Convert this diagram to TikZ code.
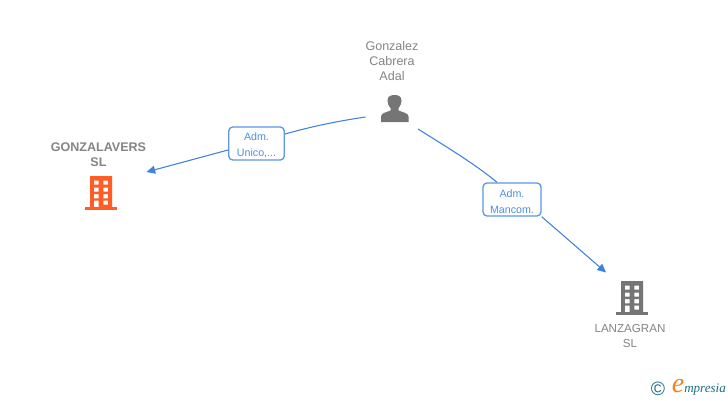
\documentclass[tikz,border=0pt]{standalone}
\usepackage{fontspec}
\setmainfont{Liberation Sans}
\newfontfamily\logofont{Liberation Serif}
\usetikzlibrary{arrows.meta}
\definecolor{linkblue}{HTML}{3F82E0}
\definecolor{boxline}{HTML}{5A98EA}
\definecolor{boxtext}{HTML}{4F8DE6}
\definecolor{greytxt}{HTML}{858585}
\definecolor{icongrey}{HTML}{757575}
\definecolor{iconorange}{HTML}{FF5C26}
\definecolor{logoteal}{HTML}{1F6F80}
\definecolor{logoorange}{HTML}{F58220}
\tikzset{
  x=0.75pt,y=-0.75pt,
  namelabel/.style={text=greytxt,font=\fontsize{9.4}{11.2}\selectfont,align=center,inner sep=0pt},
  boldlabel/.style={namelabel,font=\fontsize{9.4}{11.2}\selectfont\bfseries},
  rolebox/.style={draw=boxline,line width=1pt,rounded corners=3pt,fill=white,text=boxtext,
    font=\fontsize{8}{12}\selectfont,align=center,inner sep=0pt},
  link/.style={draw=linkblue,line width=0.8pt},
  linkarrow/.style={link,-{Triangle[length=6.5pt,width=6pt,fill=linkblue]}},
}
\newcommand{\building}[3]{%
  \begin{scope}[shift={(#1,#2)}]
    \fill[#3] (-16,31) rectangle (16,34);
    \fill[#3,even odd rule] (-11,0) rectangle (11,32)
      (-7.2,4.7) rectangle (-2.5,8.5) (2.3,4.7) rectangle (7.2,8.5)
      (-7.2,11.7) rectangle (-2.5,15.7) (2.3,11.7) rectangle (7.2,15.7)
      (-7.2,18) rectangle (-2.5,22.3) (2.3,18) rectangle (7.2,22.3)
      (-7.2,24.5) rectangle (-2.5,31) (2.3,24.5) rectangle (7.2,28.5);
  \end{scope}}
\begin{document}
\begin{tikzpicture}
\useasboundingbox (0,0) rectangle (728,400);
\fill[white] (0,0) rectangle (728,400);
% labels
\node[namelabel] (boss) at (392,61) {Gonzalez\\Cabrera\\Adal};
\node[boldlabel] (gonz) at (98.5,154.5) {GONZALAVERS\\SL};
\node[namelabel,font=\fontsize{8.7}{11.2}\selectfont] (lanz) at (630,336) {LANZAGRAN\\SL};
% person icon
\fill[icongrey] (381,122) -- (381,116.5) .. controls (381,113) and (386,112.5) .. (390.5,110.5)
  -- (390.5,108) .. controls (388,105.5) and (387.5,102) .. (387.5,100.5)
  .. controls (387.5,96.5) and (390.5,95) .. (394.5,95)
  .. controls (398.5,95) and (401.5,96.5) .. (401.5,100.5)
  .. controls (401.5,102) and (401,105.5) .. (398.5,108)
  -- (398.5,110.5) .. controls (403,112.5) and (408.5,113) .. (408.5,116.5)
  -- (408.5,122) -- cycle;
% buildings
\building{101}{176}{iconorange}
\building{632}{281}{icongrey}
% anchors
\coordinate (bossL) at (365.5,117);
\coordinate (bossR) at (418,129);
\coordinate (tipL) at (146.5,172);
\coordinate (tipR) at (606,272.5);
% role boxes
\node[rolebox,minimum width=55.5pt*0.75,minimum height=33pt*0.75] (adm1) at (256.5,143.5) {\strut\raisebox{-0.7pt}{Adm.}\\\raisebox{-0.7pt}{Unico,...}};
\node[rolebox,minimum width=58pt*0.75,minimum height=33pt*0.75] (adm2) at (512,199.5) {\strut\raisebox{-0.7pt}{Adm.}\\\raisebox{-0.7pt}{Mancom.}};
% connectors
\draw[link] (bossL) .. controls (335,121.5) and (310,127) .. (adm1.east |- 0,134);
\draw[linkarrow] (adm1.west |- 0,150) -- (tipL);
\draw[link] (bossR) .. controls (445,146) and (475,164) .. (adm2.north -| 497,0);
\draw[linkarrow] (adm2.south east) -- (tipR);
% logo
\node[text=logoteal,inner sep=0pt,font=\fontsize{14.5}{14.5}\selectfont] (copy) at (658,388.5) {\char"00A9};
\node[text=logoorange,inner sep=0pt,font=\logofont\itshape\fontsize{21}{21}\selectfont] (loge) at (678,386) {e};
\node[text=logoteal,inner sep=0pt,anchor=base west,font=\logofont\itshape\fontsize{9.8}{9.8}\selectfont] (logt) at (684,392) {mpresia};
\end{tikzpicture}
\end{document}
